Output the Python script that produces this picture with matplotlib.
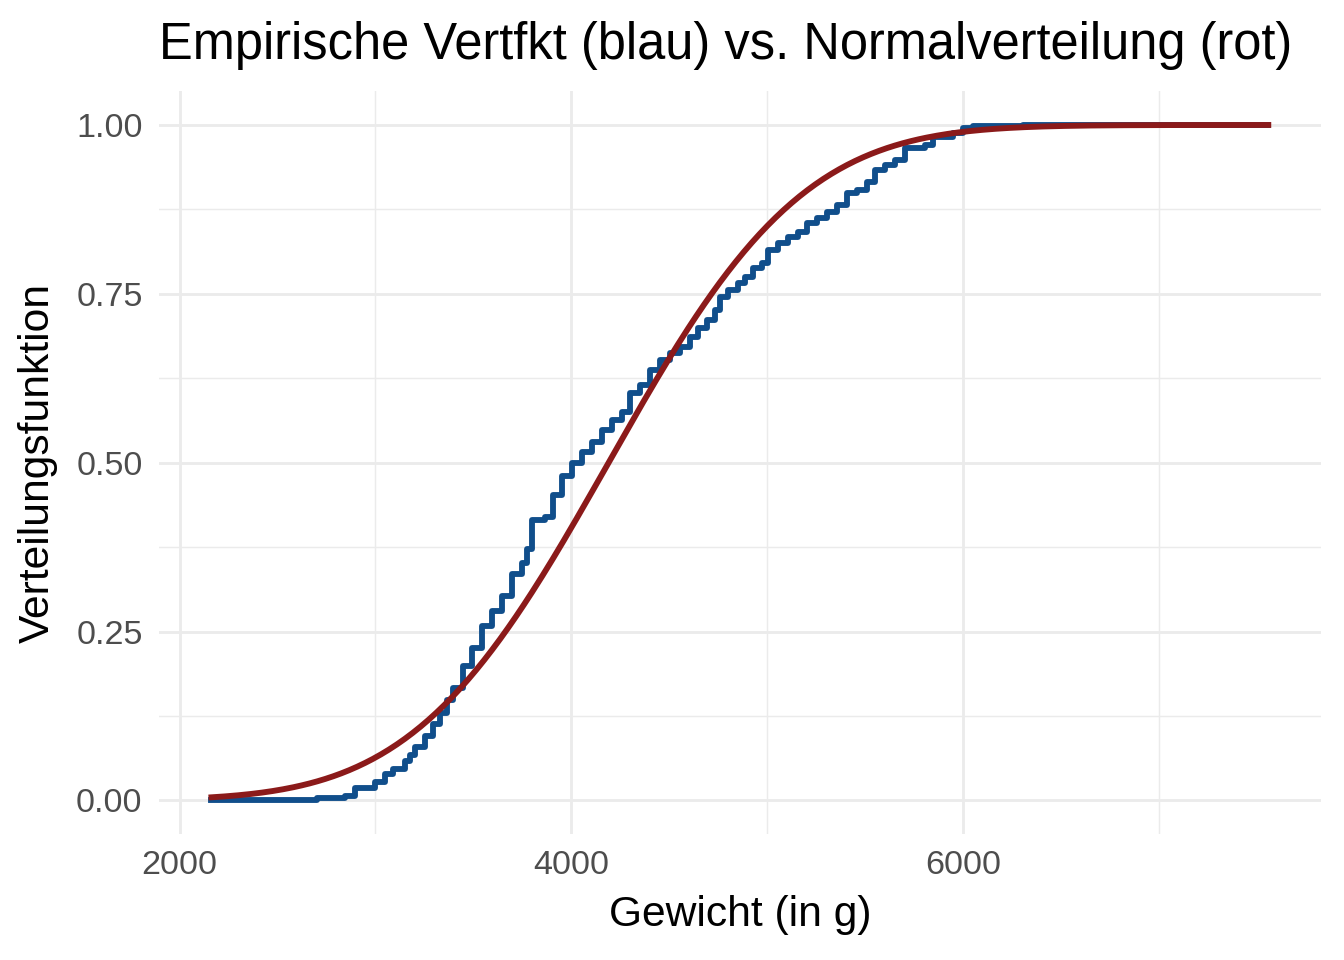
import math
import numpy as np
import matplotlib
matplotlib.use("Agg")
import matplotlib.pyplot as plt

# Sprungstellen der empirischen Verteilungsfunktion
sprung_x = [2163, 2700, 2843, 2894, 2996, 3047, 3088, 3149, 3175, 3201,
            3252, 3292, 3328, 3364, 3395, 3446, 3492, 3543, 3594, 3645,
            3696, 3747, 3773, 3798, 3865, 3906, 3951, 4003, 4054, 4105,
            4156, 4207, 4258, 4299, 4350, 4401, 4452, 4503, 4554, 4605,
            4646, 4692, 4733, 4759, 4800, 4851, 4886, 4927, 4973, 5004,
            5055, 5106, 5157, 5203, 5254, 5305, 5356, 5407, 5458, 5510,
            5551, 5602, 5653, 5704, 5806, 5847, 5949, 6000, 6051, 6307, 7558]
ecdf_y = [0.000, 0.003, 0.007, 0.019, 0.027, 0.039, 0.047, 0.058, 0.068, 0.079,
          0.096, 0.113, 0.130, 0.148, 0.167, 0.199, 0.225, 0.258, 0.280, 0.302,
          0.336, 0.351, 0.373, 0.415, 0.419, 0.452, 0.480, 0.499, 0.516, 0.530,
          0.548, 0.563, 0.575, 0.603, 0.615, 0.637, 0.652, 0.662, 0.671, 0.686,
          0.699, 0.711, 0.726, 0.745, 0.756, 0.766, 0.775, 0.788, 0.796, 0.815,
          0.825, 0.834, 0.841, 0.855, 0.862, 0.871, 0.881, 0.899, 0.904, 0.916,
          0.933, 0.941, 0.948, 0.966, 0.970, 0.982, 0.988, 0.996, 0.999, 1.000, 1.000]

# Parameter der Normalverteilung
mittel = 4190
sd = 780

x_ticks = [2000, 4000, 6000]
y_ticks = [0.00, 0.25, 0.50, 0.75, 1.00]
y_labels = ["0.00", "0.25", "0.50", "0.75", "1.00"]

plt.rcParams['font.family'] = ['Liberation Sans', 'DejaVu Sans']

fig = plt.figure(figsize=(7, 5), dpi=192)
ax = fig.add_axes([0.118, 0.131, 0.865, 0.774])

# Gitter wie bei theme_minimal
for v in [3000, 5000, 7000]:
    ax.axvline(v, color="#EBEBEB", lw=0.55, zorder=0)
for v in [0.125, 0.375, 0.625, 0.875]:
    ax.axhline(v, color="#EBEBEB", lw=0.55, zorder=0)
for v in x_ticks:
    ax.axvline(v, color="#EBEBEB", lw=1.07, zorder=0)
for v in y_ticks:
    ax.axhline(v, color="#EBEBEB", lw=1.07, zorder=0)

ax.step(sprung_x, ecdf_y, where="post", color="#104E8B", lw=2.2, zorder=2)

xs = np.linspace(sprung_x[0], sprung_x[-1], 400)
cdf = np.array([0.5 * (1 + math.erf((v - mittel) / (sd * math.sqrt(2)))) for v in xs])
ax.plot(xs, cdf, color="#8B1A1A", lw=2.2, zorder=3)

rng = sprung_x[-1] - sprung_x[0]
ax.set_xlim(sprung_x[0] - 0.05 * rng, sprung_x[-1] + 0.05 * rng)
ax.set_ylim(-0.05, 1.05)
ax.set_xticks(x_ticks)
ax.set_xticklabels([str(v) for v in x_ticks])
ax.set_yticks(y_ticks)
ax.set_yticklabels(y_labels)
ax.tick_params(length=0, labelsize=12.8, labelcolor="#4D4D4D", pad=6)
for s in ax.spines.values():
    s.set_visible(False)

ax.set_xlabel("Gewicht (in g)", fontsize=16, labelpad=5)
ax.set_ylabel("Verteilungsfunktion", fontsize=16, labelpad=7)
ax.set_title("Empirische Vertfkt (blau) vs. Normalverteilung (rot)",
             fontsize=19, loc="left", pad=12)

fig.savefig("out.png", dpi=192)
